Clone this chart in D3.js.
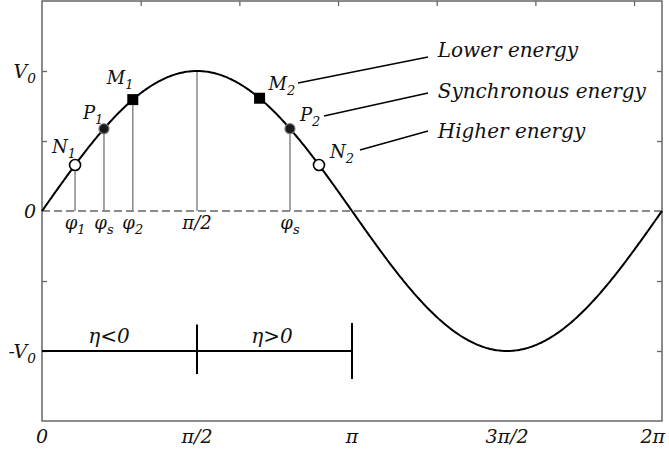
<!DOCTYPE html>
<html><head><meta charset="utf-8">
<script src="https://cdn.jsdelivr.net/npm/d3@7"></script>
<style>
body{margin:0;background:#fff;}
text{font-family:"DejaVu Serif",serif;font-style:italic;fill:#111;}
</style></head>
<body><svg id="c" width="669" height="455"></svg>
<script>
const PI = Math.PI;
// phase values of the marked particles (radians)
const pointNames = ["N1","P1","M1","M2","P2","N2"];
const pointPhase = [0.335, 0.628, 0.92, 2.205, 2.513, 2.807];
const pointKind  = ["open","dot","square","square","dot","open"];
const pointDrop  = [true,true,true,false,true,false];
const pointLabelMain = ["N","P","M","M","P","N"];
const pointLabelSub  = ["1","1","1","2","2","2"];
// label offsets (px) relative to point: [dx, dy]
const pointLabelOff = [[-23,-12],[-21,-10],[-26,-16],[9,-8],[10,-8],[11,-7]];

const bottomTickVals = [0, PI/2, PI, 3*PI/2, 2*PI];
const bottomTickLabels = ["0","π/2","π","3π/2","2π"];
const topTickVals = [1,2,3,4,5,6];
const sideTickVals = [-1,-0.5,0.5,1];
const yLabelVals = [1,0,-1];
const yLabelMain = ["V","0","-V"];
const yLabelSub = ["0","","0"];

const phiLabelPhase = [0.335, 0.628, 0.92, PI/2, 2.513];
const phiLabelMain = ["φ","φ","φ","π/2","φ"];
const phiLabelSub = ["1","s","2","","s"];
const dropPhase = [PI/2];

const energyLabels = ["Lower energy","Synchronous energy","Higher energy"];
// leader lines in data units [x1,y1,x2,y2]
const leaders = [[2.594,0.914,3.912,1.10],[2.858,0.679,3.912,0.843],[3.222,0.436,3.912,0.571]];
const energyLabelPos = [[4.01,1.10],[4.01,0.807],[4.01,0.521]];

const etaLabels = ["η<0","η>0"];
const etaLabelX = [0.68, 2.33];
const etaBarX = [PI/2, PI];
const etaBarHalf = [[0.19,0.165],[0.2,0.2]];

const svg = d3.select("#c");
const x = d3.scaleLinear().domain([0, 2*PI]).range([42, 662]);
const y = d3.scaleLinear().domain([-1.5, 1.5]).range([421, 1]);

const FS = 18;
function label(g, px, py, main, sub, anchor, size){
  const t = g.append("text").attr("x", px).attr("y", py)
    .attr("text-anchor", anchor).style("font-size", size+"px");
  t.append("tspan").text(main);
  if(sub) t.append("tspan").attr("dy", size*0.28).style("font-size", (size*0.72)+"px").text(sub);
  return t;
}

// frame
svg.append("rect").attr("x", x(0)).attr("y", y(1.5)).attr("width", x(2*PI)-x(0))
  .attr("height", y(-1.5)-y(1.5)).attr("fill","none").attr("stroke","#666").attr("stroke-width",1.5);

// ticks
const tickStyle = g => { g.select(".domain").remove(); g.selectAll("text").remove();
  g.selectAll("line").attr("stroke","#666").attr("stroke-width",1.3); };
svg.append("g").attr("transform",`translate(${x(0)},0)`)
  .call(d3.axisLeft(y).tickValues(sideTickVals).tickSize(-5)).call(tickStyle);
svg.append("g").attr("transform",`translate(${x(2*PI)},0)`)
  .call(d3.axisRight(y).tickValues(sideTickVals).tickSize(-5)).call(tickStyle);
svg.append("g").attr("transform",`translate(0,${y(1.5)})`)
  .call(d3.axisTop(x).tickValues(topTickVals).tickSize(-5)).call(tickStyle);

// zero line
svg.append("line").attr("x1",x(0)).attr("x2",x(2*PI)).attr("y1",y(0)).attr("y2",y(0))
  .attr("stroke","#666").attr("stroke-width",1.4).attr("stroke-dasharray","8,4");

// drop lines
const drops = pointPhase.filter((p,i)=>pointDrop[i]).concat(dropPhase);
svg.selectAll(".drop").data(drops).enter().append("line")
  .attr("x1",d=>x(d)).attr("x2",d=>x(d)).attr("y1",d=>y(Math.sin(d))).attr("y2",y(0))
  .attr("stroke","#888").attr("stroke-width",1.5);

// sine curve
const curveX = d3.range(0, 2*PI+1e-9, 2*PI/400);
svg.append("path").datum(curveX)
  .attr("d", d3.line().x(d=>x(d)).y(d=>y(Math.sin(d))))
  .attr("fill","none").attr("stroke","#000").attr("stroke-width",2);

// eta bar
svg.append("line").attr("x1",x(0)).attr("x2",x(PI)).attr("y1",y(-1)).attr("y2",y(-1))
  .attr("stroke","#000").attr("stroke-width",2);
svg.selectAll(".etabar").data(etaBarX).enter().append("line")
  .attr("x1",d=>x(d)).attr("x2",d=>x(d))
  .attr("y1",(d,i)=>y(-1+etaBarHalf[i][0])).attr("y2",(d,i)=>y(-1-etaBarHalf[i][1]))
  .attr("stroke","#000").attr("stroke-width",2);
etaLabels.forEach((t,i)=>label(svg, x(etaLabelX[i]), y(-0.943), t, "", "middle", 20));

// points
pointPhase.forEach((p,i)=>{
  const cx = x(p), cy = y(Math.sin(p));
  if(pointKind[i]==="open"){
    svg.append("circle").attr("cx",cx).attr("cy",cy).attr("r",5.5)
      .attr("fill","#fff").attr("stroke","#000").attr("stroke-width",1.6);
  } else if(pointKind[i]==="dot"){
    svg.append("circle").attr("cx",cx).attr("cy",cy).attr("r",5)
      .attr("fill","#1a1a1a").attr("stroke","#777").attr("stroke-width",1.2);
  } else {
    svg.append("rect").attr("x",cx-5.5).attr("y",cy-5.5).attr("width",11).attr("height",11)
      .attr("fill","#000");
  }
  label(svg, cx+pointLabelOff[i][0], cy+pointLabelOff[i][1], pointLabelMain[i], pointLabelSub[i], "start", FS);
});

// phi labels
phiLabelPhase.forEach((p,i)=>label(svg, x(p), y(0)+18, phiLabelMain[i], phiLabelSub[i], "middle", FS));

// leaders + energy labels
svg.selectAll(".lead").data(leaders).enter().append("line")
  .attr("x1",d=>x(d[0])).attr("y1",d=>y(d[1])).attr("x2",d=>x(d[2])).attr("y2",d=>y(d[3]))
  .attr("stroke","#000").attr("stroke-width",1.5);
energyLabels.forEach((t,i)=>label(svg, x(energyLabelPos[i][0]), y(energyLabelPos[i][1]), t, "", "start", 20));

// y labels
yLabelVals.forEach((v,i)=>label(svg, x(0)-6, y(v)+7, yLabelMain[i], yLabelSub[i], "end", 19));
// bottom labels (last one kept inside the page)
bottomTickVals.forEach((v,i)=>{
  const last = i === bottomTickVals.length-1;
  label(svg, last ? x(v)+3 : x(v), y(-1.5)+22, bottomTickLabels[i], "", last ? "end" : "middle", 19);
});
</script></body></html>
